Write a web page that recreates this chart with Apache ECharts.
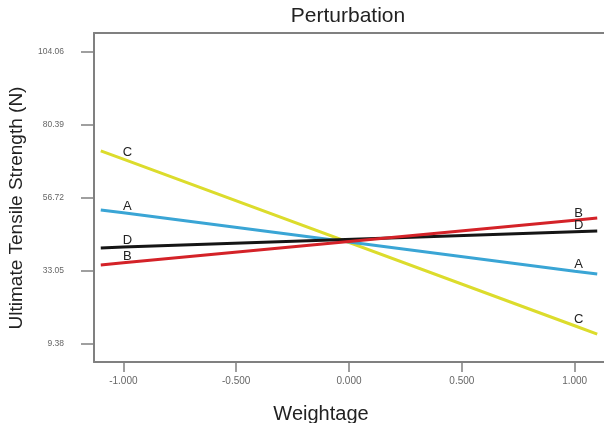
<!DOCTYPE html>
<html>
<head>
<meta charset="utf-8">
<script src="https://cdn.jsdelivr.net/npm/echarts@6/dist/echarts.min.js"></script>
<style>
  html, body { margin: 0; padding: 0; background: #fff; }
  #chart { width: 604px; height: 423px; }
</style>
</head>
<body>
<div id="chart"></div>
<script>
// weightage points (line ends and letter positions)
var weightage = [-1.1, -1, 1, 1.1]
var seriesA = [52.8, 51.9, 33.0, 32.1]
var seriesB = [35.0, 35.7, 49.5, 50.2]
var seriesC = [72.0, 69.3, 15.3, 12.6]
var seriesD = [40.5, 40.8, 45.8, 46.0]
var yTicks = [9.38, 33.05, 56.72, 80.39, 104.06]
var xTicks = [-1, -0.5, 0, 0.5, 1]

var axisGray = '#808080'
var font = 'Liberation Sans, Arial, sans-serif'

function makeSeries(name, values, color)
{
  return {
    name: name,
    type: 'line',
    data: weightage.map(function(x, i)
    {
      var item = { value: [x, values[i]] }
      // letters sit at the -1 and 1 points
      if (x === -1 || x === 1)
        item.label = { show: true }
      return item
    }),
    showSymbol: true,
    symbol: 'circle',
    symbolSize: 0,
    animation: false,
    lineStyle: { color: color, width: 3 },
    itemStyle: { color: color },
    label: {
      show: false,
      position: 'top',
      distance: 0,
      offset: [4, 0],
      formatter: name,
      color: '#222',
      fontSize: 13,
      fontFamily: font
    }
  }
}

var chart = echarts.init(document.getElementById('chart'))
chart.setOption({
  animation: false,
  grid: { left: 94, right: 0, top: 33, bottom: 61, containLabel: false, outerBoundsMode: 'none' },
  xAxis: [
    {
      type: 'value',
      min: -1.13,
      max: 1.13,
      axisLine: { show: true, onZero: false, lineStyle: { color: axisGray, width: 2 } },
      axisTick: { show: true, customValues: xTicks, length: 10, lineStyle: { color: axisGray, width: 1.5 } },
      axisLabel: {
        customValues: xTicks,
        margin: 14,
        fontSize: 10,
        color: '#666',
        fontFamily: font,
        formatter: function(v) { return v.toFixed(3) }
      },
      splitLine: { show: false },
      name: 'Weightage',
      nameLocation: 'middle',
      nameGap: 42,
      nameTextStyle: { fontSize: 20, color: '#222', fontFamily: font, padding: [0, 0, 0, -56] }
    },
    {
      // top border line of the plot
      type: 'value',
      position: 'top',
      min: -1.13,
      max: 1.13,
      axisLine: { show: true, lineStyle: { color: axisGray, width: 2 } },
      axisTick: { show: false },
      axisLabel: { show: false },
      splitLine: { show: false }
    }
  ],
  yAxis: {
    type: 'value',
    min: 3.54,
    max: 110.22,
    axisLine: { show: true, onZero: false, lineStyle: { color: axisGray, width: 2 } },
    axisTick: { show: true, customValues: yTicks, length: 13, lineStyle: { color: axisGray, width: 1.5 } },
    axisLabel: {
      customValues: yTicks,
      margin: 30,
      fontSize: 8.5,
      color: '#666',
      fontFamily: font,
      formatter: function(v) { return v.toFixed(2) }
    },
    splitLine: { show: false }
  },
  graphic: [
    {
      type: 'text',
      z: 100,
      x: 348,
      y: 31,
      style: {
        text: 'Perturbation',
        align: 'center',
        verticalAlign: 'bottom',
        fontSize: 21,
        fontFamily: font,
        fill: '#222',
        backgroundColor: '#fff',
        padding: [2, 3, 4, 3]
      }
    },
    {
      type: 'text',
      z: 100,
      x: 17,
      y: 208,
      rotation: Math.PI / 2,
      style: {
        text: 'Ultimate Tensile Strength (N)',
        align: 'center',
        verticalAlign: 'middle',
        fontSize: 19,
        fontFamily: font,
        fill: '#222'
      }
    }
  ],
  series: [
    makeSeries('C', seriesC, '#dcdc2c'),
    makeSeries('A', seriesA, '#3aa5d5'),
    makeSeries('D', seriesD, '#151515'),
    makeSeries('B', seriesB, '#d42228')
  ]
})
</script>
</body>
</html>
